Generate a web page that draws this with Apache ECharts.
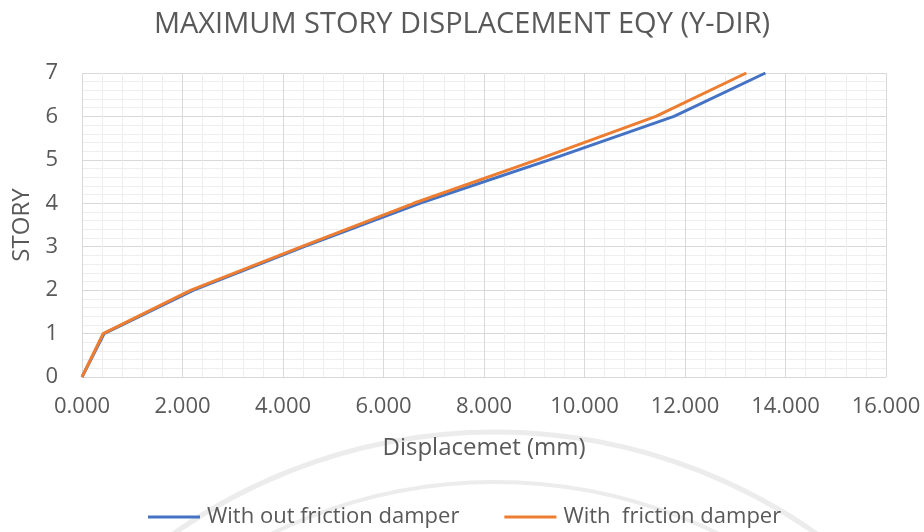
<!DOCTYPE html>
<html>
<head>
<meta charset="utf-8">
<script src="https://cdn.jsdelivr.net/npm/echarts@6/dist/echarts.min.js"></script>
<style>
  html, body { margin: 0; padding: 0; background: #ffffff; }
  #chart { width: 924px; height: 532px; }
</style>
</head>
<body>
<div id="chart"></div>
<script>
// Story levels and peak displacement (mm) under EQY, Y direction
const stories = [0, 1, 2, 3, 4, 5, 6, 7];
const dispWithout = [0, 0.44, 2.22, 4.42, 6.72, 9.3, 11.78, 13.6];
const dispWith = [0, 0.42, 2.17, 4.37, 6.6, 9.05, 11.42, 13.22];
const seriesNames = ['With out friction damper', 'With  friction damper'];
const xTicks = { min: 0, max: 16, step: 2 };
const yTicks = { min: 0, max: 7, step: 1 };

const FONT = '"Open Sans", sans-serif';
const TEXT = '#595959';

const pairs = (xs) => xs.map((x, i) => [x, stories[i]]);

const chart = echarts.init(document.getElementById('chart'), null, { renderer: 'canvas' });

chart.setOption({
  backgroundColor: '#ffffff',
  animation: false,
  // faint seal rings behind the lower part of the page
  graphic: [
    {
      type: 'circle', silent: true, z: -10,
      shape: { cx: 495, cy: 990, r: 558 },
      style: { fill: 'none', stroke: '#ececec', lineWidth: 5 }
    },
    {
      type: 'circle', silent: true, z: -10,
      shape: { cx: 495, cy: 990, r: 508 },
      style: { fill: 'none', stroke: '#ececec', lineWidth: 4 }
    }
  ],
  title: {
    text: 'MAXIMUM STORY DISPLACEMENT EQY (Y-DIR)',
    left: 'center',
    top: 5,
    textStyle: { fontFamily: FONT, fontSize: 29, fontWeight: 'normal', color: TEXT }
  },
  grid: { left: 82, right: 38, top: 73, bottom: 155, containLabel: false },
  xAxis: {
    type: 'value',
    min: xTicks.min,
    max: xTicks.max,
    interval: xTicks.step,
    name: 'Displacemet (mm)',
    nameLocation: 'middle',
    nameGap: 59,
    nameTextStyle: { fontFamily: FONT, fontSize: 24, color: TEXT },
    axisLine: { show: true, lineStyle: { color: '#d9d9d9', width: 1 } },
    axisTick: { show: false },
    axisLabel: {
      margin: 19,
      fontFamily: FONT, fontSize: 22, color: TEXT,
      formatter: (v) => v.toFixed(3)
    },
    splitLine: { show: true, lineStyle: { color: '#d9d9d9', width: 1 } },
    minorTick: { show: false, splitNumber: 5 },
    minorSplitLine: { show: true, lineStyle: { color: '#eeeeee', width: 1 } }
  },
  yAxis: {
    type: 'value',
    min: yTicks.min,
    max: yTicks.max,
    interval: yTicks.step,
    name: 'STORY',
    nameLocation: 'middle',
    nameGap: 47,
    nameRotate: 90,
    nameTextStyle: { fontFamily: FONT, fontSize: 24, color: TEXT },
    axisLine: { show: false },
    axisTick: { show: false },
    axisLabel: { margin: 24, fontFamily: FONT, fontSize: 22, color: TEXT },
    splitLine: { show: true, lineStyle: { color: '#d9d9d9', width: 1 } },
    minorTick: { show: false, splitNumber: 5 },
    minorSplitLine: { show: true, lineStyle: { color: '#eeeeee', width: 1 } }
  },
  legend: {
    bottom: -1,
    left: 143,
    itemWidth: 52,
    itemHeight: 3,
    itemGap: 45,
    icon: 'rect',
    textStyle: { fontFamily: FONT, fontSize: 22, color: TEXT, padding: [0, 0, 0, 2] },
    data: seriesNames
  },
  series: [
    {
      name: seriesNames[0],
      type: 'line',
      data: pairs(dispWithout),
      symbol: 'none',
      lineStyle: { color: '#4472c4', width: 3 },
      itemStyle: { color: '#4472c4' },
      z: 2
    },
    {
      name: seriesNames[1],
      type: 'line',
      data: pairs(dispWith),
      symbol: 'none',
      lineStyle: { color: '#ed7d31', width: 3 },
      itemStyle: { color: '#ed7d31' },
      z: 3
    }
  ]
});
</script>
</body>
</html>
